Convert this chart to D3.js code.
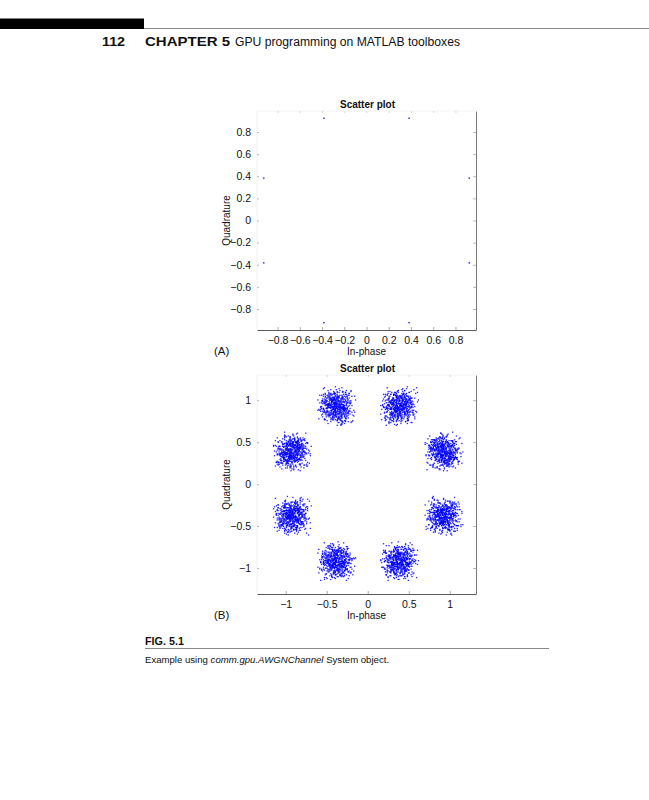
<!DOCTYPE html>
<html>
<head>
<meta charset="utf-8">
<script src="https://cdn.jsdelivr.net/npm/d3@7"></script>
<style>
  body { margin: 0; background: #fff; }
  svg { display: block; }
</style>
</head>
<body>
<div id="page"></div>
<script>
var svgWidth = 649;
var svgHeight = 800;

// 8-PSK constellation points (pi/8 phase offset)
var centerI = [0.924, 0.383, -0.383, -0.924, -0.924, -0.383, 0.383, 0.924];
var centerQ = [0.383, 0.924, 0.924, 0.383, -0.383, -0.924, -0.924, -0.383];

// tick values
var ticksA = [-0.8, -0.6, -0.4, -0.2, 0, 0.2, 0.4, 0.6, 0.8];
var ticksB = [-1, -0.5, 0, 0.5, 1];

// AWGN offsets (hundredths of a unit)
var noiseI = [
  3,-8,5,12,-2,-11,7,0,-5,9,-14,4,-1,6,-7,15,-3,2,-9,10,
  -4,1,8,-12,6,-6,-1,11,-17,3,4,-3,13,-8,0,7,-10,5,-2,18,
  -6,9,-13,2,-1,6,-4,14,-9,0,5,-15,8,-3,10,-7,1,-11,4,-5,
  12,-2,7,-19,3,-8,16,-1,6,-4,2,-10,9,-6,0,11,-3,5,-12,8,
  -7,4,-16,1,10,-5,3,-9,13,-2,6,-14,0,7,-1,20,-8,2,-4,9,
  5,-11,-3,8,-6,14,-2,4,-13,1,11,-7,3,-1,-9,6,-20,10,-5,2,
  0,-4,9,-8,15,-3,6,-10,2,-1,12,-6,4,-15,7,-2,1,-9,17,-5,
  8,-1,-12,5,-7,3,-2,13,-4,10,-16,0,6,-8,2,-11,9,-3,4,-6,
  -10,7,1,-5,11,-13,4,-2,8,-7,0,14,-3,5,-18,3,-6,12,-1,6,
  2,-9,16,-4,-1,7,-12,9,-6,3,-2,10,-14,1,5,-8,13,-5,0,-3,
  11,-6,3,-10,6,-1,19,-7,1,-4,8,-15,2,-2,9,-9,4,-12,7,0,
  -3,13,-8,2,-5,10,-1,-17,6,-11,3,5,-6,15,-2,1,-10,8,-4,4,
  6,-2,-9,12,-14,0,7,-3,11,-8,2,-5,17,-1,-7,4,-13,9,-6,1,
  -12,5,1,-6,9,-2,-15,8,-4,13,-9,3,0,-11,6,-1,10,-3,21,-7,
  4,-13,7,-1,-8,11,-5,2,-16,6,-3,14,-10,1,5,-4,-19,9,-2,3
];
var noiseQ = [
  -5,2,10,-7,1,-13,6,-3,14,-1,4,-9,0,8,-16,3,-4,11,-2,7,
  9,-6,-1,13,-10,4,-3,6,0,-12,17,-5,2,-8,11,-2,7,-14,5,-1,
  -2,12,-8,3,-5,9,-18,1,6,-4,-11,7,-1,15,-6,2,-9,4,10,-3,
  7,-10,1,-4,16,-7,3,-13,8,0,-2,12,-6,5,-15,9,-1,6,-3,-8,
  14,-3,5,-11,2,-1,10,-6,-17,4,-8,1,13,-5,7,-12,3,-2,9,0,
  -9,6,-14,1,-3,11,-6,18,-2,5,0,-10,4,-7,12,-1,8,-16,2,-4,
  3,-15,7,-1,-6,10,-4,2,-12,9,-8,5,-20,6,1,-3,15,-9,4,-2,
  -7,0,11,-5,8,-13,2,-1,16,-6,3,-11,7,-4,-2,13,-8,1,-10,6,
  10,-4,-1,6,-9,3,-15,12,-3,1,-7,8,-2,19,-11,5,0,-6,3,-13,
  -1,8,-11,4,14,-8,1,-5,9,-2,-14,3,11,-9,6,-3,2,-18,7,-6,
  5,-12,2,-3,-10,15,-5,7,-1,12,-7,0,9,-4,-13,6,-8,3,-2,17,
  -6,3,13,-9,1,-4,8,-12,4,-16,10,-2,6,-1,-8,14,-5,2,-11,7,
  12,-1,-6,9,-14,5,-2,20,-8,3,-4,11,-10,1,7,-15,4,-3,8,-7,
  -3,10,-17,2,6,-9,4,-1,13,-5,1,-12,8,-2,-6,16,-10,5,0,-4,
  8,-6,3,-14,11,-2,-9,6,-4,1,15,-7,2,-11,-1,9,-3,12,-5,4
];

var svg = d3.select("#page")
    .append("svg")
    .attr("width", svgWidth)
    .attr("height", svgHeight);

// page header
svg.append("rect")
    .attr("x", 0).attr("y", 18.5)
    .attr("width", 144).attr("height", 10.5)
    .attr("fill", "#000");

svg.append("line")
    .attr("x1", 144).attr("x2", 649)
    .attr("y1", 28.5).attr("y2", 28.5)
    .attr("stroke", "#8a8a8a").attr("stroke-width", 1);

var header = svg.append("g")
    .style("font-family", "'Liberation Sans Narrow', 'Liberation Sans', Arial, sans-serif")
    .style("font-size", "12px")
    .attr("fill", "#111");

header.append("text")
    .attr("x", 102).attr("y", 46)
    .attr("font-weight", "bold")
    .attr("textLength", 23).attr("lengthAdjust", "spacingAndGlyphs")
    .text("112");

header.append("text")
    .attr("x", 145).attr("y", 46)
    .attr("font-weight", "bold")
    .attr("textLength", 85).attr("lengthAdjust", "spacingAndGlyphs")
    .text("CHAPTER 5");

header.append("text")
    .attr("x", 235).attr("y", 46)
    .attr("textLength", 225).attr("lengthAdjust", "spacingAndGlyphs")
    .text("GPU programming on MATLAB toolboxes");

// build one scatter panel
function drawPanel(opts) {
    var box = opts.box;

    var xScale = d3.scaleLinear()
        .domain(opts.xDomain)
        .range([box.left, box.right]);

    var yScale = d3.scaleLinear()
        .domain(opts.yDomain)
        .range([box.bottom, box.top]);

    var g = svg.append("g")
        .style("font-family", "'Liberation Sans', Arial, sans-serif");

    // faint box edges (left / top almost washed out in the scan)
    g.append("line")
        .attr("x1", box.left).attr("x2", box.left)
        .attr("y1", box.top).attr("y2", box.bottom)
        .attr("stroke", "#f1f1f1");
    g.append("line")
        .attr("x1", box.left).attr("x2", box.right)
        .attr("y1", box.top).attr("y2", box.top)
        .attr("stroke", "#f3f3f3");

    // bottom axis
    var bottomAxis = d3.axisBottom(xScale)
        .tickValues(opts.xTicks)
        .tickSizeInner(-3)
        .tickSizeOuter(0)
        .tickPadding(7)
        .tickFormat(d3.format(""));

    var xAxis = g.append("g")
        .attr("transform", `translate(0, ${box.bottom})`)
        .call(bottomAxis);
    xAxis.select(".domain").attr("stroke", "#5a5a5a");
    xAxis.selectAll(".tick line").attr("stroke", "#aaa");
    xAxis.selectAll("text")
        .attr("fill", "#111")
        .style("font-size", "10.5px");

    // left axis
    var leftAxis = d3.axisLeft(yScale)
        .tickValues(opts.yTicks)
        .tickSizeInner(-2)
        .tickSizeOuter(0)
        .tickPadding(6)
        .tickFormat(d3.format(""));

    var yAxis = g.append("g")
        .attr("transform", `translate(${box.left}, 0)`)
        .call(leftAxis);
    yAxis.select(".domain").attr("stroke", "none");
    yAxis.selectAll(".tick line").attr("stroke", "#bbb");
    yAxis.selectAll("text")
        .attr("fill", "#111")
        .style("font-size", "10.5px");

    // right axis: drawn line with inward ticks
    var rightAxis = d3.axisRight(yScale)
        .tickValues(opts.yTicks)
        .tickSizeInner(-3)
        .tickSizeOuter(0)
        .tickFormat("");
    var rAxis = g.append("g")
        .attr("transform", `translate(${box.right}, 0)`)
        .call(rightAxis);
    rAxis.select(".domain").attr("stroke", "#777");
    rAxis.selectAll(".tick line").attr("stroke", "#bbb");

    // top axis: faint ticks only
    var topAxis = d3.axisTop(xScale)
        .tickValues(opts.xTicks)
        .tickSizeInner(-2)
        .tickSizeOuter(0)
        .tickFormat("");
    var tAxis = g.append("g")
        .attr("transform", `translate(0, ${box.top})`)
        .call(topAxis);
    tAxis.select(".domain").attr("stroke", "none");
    tAxis.selectAll(".tick line").attr("stroke", "#d8d8d8");

    // title and axis labels
    g.append("text")
        .attr("x", (box.left + box.right) / 2 + 1)
        .attr("y", box.top - 3)
        .attr("text-anchor", "middle")
        .attr("font-weight", "bold")
        .style("font-size", "10px")
        .attr("fill", "#111")
        .text("Scatter plot");

    g.append("text")
        .attr("x", (box.left + box.right) / 2)
        .attr("y", box.bottom + 25)
        .attr("text-anchor", "middle")
        .style("font-size", "10px")
        .attr("fill", "#111")
        .text("In-phase");

    g.append("text")
        .attr("transform", `translate(230, ${(box.top + box.bottom) / 2}) rotate(-90)`)
        .attr("text-anchor", "middle")
        .style("font-size", "10px")
        .attr("fill", "#111")
        .text("Quadrature");

    g.append("text")
        .attr("x", 214)
        .attr("y", box.bottom + 25)
        .style("font-size", "11.5px")
        .attr("fill", "#111")
        .text(opts.tag);

    // points
    g.selectAll("rect.pt")
        .data(opts.points)
        .enter()
        .append("rect")
        .classed("pt", true)
        .attr("x", d => xScale(d.i) - opts.dot / 2)
        .attr("y", d => yScale(d.q) - opts.dot / 2)
        .attr("width", opts.dot)
        .attr("height", opts.dot)
        .attr("fill", "#0000ff")
        .attr("opacity", opts.alpha);
}

// panel A: clean constellation
var pointsA = centerI.map((c, k) => ({ i: c, q: centerQ[k] }));

drawPanel({
    box: { left: 257, right: 476, top: 111, bottom: 330 },
    xDomain: [-0.985, 0.985],
    yDomain: [-0.99, 0.99],
    xTicks: ticksA,
    yTicks: ticksA,
    tag: "(A)",
    points: pointsA,
    dot: 1.4,
    alpha: 0.9
});

// panel B: constellation after AWGN channel
// each cluster pairs the I and Q offsets at a different index shift
var pointsB = [];
var n = noiseI.length;
var unit = 0.0112;
centerI.forEach(function(c, k) {
    for (var j = 0; j < n; j++) {
        pointsB.push({
            i: c + noiseI[j] * unit,
            q: centerQ[k] + noiseQ[(j + 41 * k) % n] * unit
        });
        pointsB.push({
            i: c + noiseQ[j] * unit,
            q: centerQ[k] + noiseI[(j + 73 * k + 17) % n] * unit
        });
    }
});

drawPanel({
    box: { left: 257, right: 476, top: 375, bottom: 594 },
    xDomain: [-1.35, 1.32],
    yDomain: [-1.31, 1.30],
    xTicks: ticksB,
    yTicks: ticksB,
    tag: "(B)",
    points: pointsB,
    dot: 1.3,
    alpha: 0.85
});

// figure caption
var caption = svg.append("g")
    .style("font-family", "'Liberation Sans Narrow', 'Liberation Sans', Arial, sans-serif")
    .attr("fill", "#111");

caption.append("text")
    .attr("x", 145).attr("y", 645)
    .attr("font-weight", "bold")
    .style("font-size", "10.5px")
    .attr("textLength", 39).attr("lengthAdjust", "spacingAndGlyphs")
    .text("FIG. 5.1");

caption.append("line")
    .attr("x1", 145).attr("x2", 549)
    .attr("y1", 648.5).attr("y2", 648.5)
    .attr("stroke", "#888");

var capText = caption.append("text")
    .attr("x", 145).attr("y", 663)
    .style("font-size", "9.6px");
capText.append("tspan").text("Example using ");
capText.append("tspan").attr("font-style", "italic").text("comm.gpu.AWGNChannel");
capText.append("tspan").text(" System object.");
</script>
</body>
</html>
